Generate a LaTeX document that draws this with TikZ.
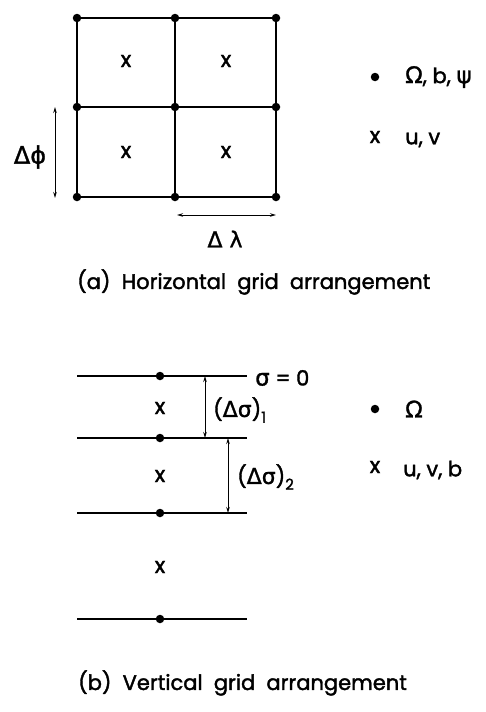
\documentclass[tikz,border=0pt]{standalone}
\usepackage{fontspec}
\setmainfont{Poppins}[FakeBold=1.5]
\newfontfamily\lat{Poppins}[FakeBold=1.8]
\newfontfamily\grk{DejaVu Sans}[FakeBold=1.2]
\usetikzlibrary{arrows.meta}
\begin{document}
\begin{tikzpicture}[x=1pt,y=-1pt,
  dot/.style={circle,fill=black,inner sep=0pt,minimum size=8.5pt},
  gridline/.style={line width=1.6pt},
  dim/.style={line width=1pt,{Stealth[length=6pt,width=3.5pt]}-{Stealth[length=6pt,width=3.5pt]}},
  lbl/.style={font=\lat\fontsize{21}{24}\selectfont,inner sep=0pt},
  cross/.style={font=\lat\fontsize{22}{24}\selectfont,inner sep=0pt},
  captext/.style={font=\lat\fontsize{21}{24}\selectfont,inner sep=0pt,anchor=west}]
\useasboundingbox (0,0) rectangle (486,712);
% ---------- (a) horizontal grid ----------
\foreach \i/\x in {1/77,2/175,3/276}
  \foreach \j/\y in {1/18,2/107,3/197}
    \node[dot] (g\i\j) at (\x,\y) {};
\foreach \j in {1,2,3} \draw[gridline] (g1\j.center) -- (g3\j.center);
\foreach \i in {1,2,3} \draw[gridline] (g\i1.center) -- (g\i3.center);
\node[cross] (xa1) at (126,61) {x};
\node[cross] (xa2) at (226,61) {x};
\node[cross] (xa3) at (126,152) {x};
\node[cross] (xa4) at (226,152) {x};
\coordinate (phiA) at (55,107);
\coordinate (phiB) at (55,198);
\draw[dim] (phiA) -- (phiB);
\node[lbl,font=\grk\fontsize{24}{26}\selectfont] (dphi) at (30,157) {Δϕ};
\coordinate (lamA) at (177,215);
\coordinate (lamB) at (276,215);
\draw[dim] (lamA) -- (lamB);
\node[lbl,font=\grk\fontsize{22}{24}\selectfont] (dlam) at (225,239) {Δ λ};
\node[dot] (la1) at (375,77) {};
\node[lbl,anchor=west] (la1t) at (405,77) {{\grk\fontsize{23}{24}\selectfont Ω}, b, {\grk\fontsize{23}{24}\selectfont ψ}};
\node[cross] (la2) at (375,137) {x};
\node[lbl,anchor=west] (la2t) at (405,140) {u, v};
\node[captext] (capa) at (77,282) {(a)\ \ Horizontal\ \ grid\ \ arrangement};
% ---------- (b) vertical grid ----------
\foreach \k/\y in {1/376,2/438,3/513,4/619}{
  \coordinate (l\k) at (77,\y);
  \coordinate (r\k) at (247,\y);
  \draw[gridline] (l\k) -- (r\k);
  \node[dot] (d\k) at (160,\y) {};
}
\node[cross] (xb1) at (160,408) {x};
\node[cross] (xb2) at (160,476) {x};
\node[cross] (xb3) at (160,567) {x};
\coordinate (s1A) at (205,376);
\coordinate (s1B) at (205,438);
\draw[dim] (s1A) -- (s1B);
\coordinate (s2A) at (228,438);
\coordinate (s2B) at (228,513);
\draw[dim] (s2A) -- (s2B);
\node[lbl,anchor=west] (sig0) at (255,378) {{\grk\fontsize{23}{24}\selectfont σ} = 0};
\node[lbl,anchor=west] (ds1) at (213,410) {({\grk\fontsize{22}{24}\selectfont Δσ})\raisebox{-0.5ex}{\fontsize{15}{15}\selectfont 1}};
\node[lbl,anchor=west] (ds2) at (237,477) {({\grk\fontsize{22}{24}\selectfont Δσ})\raisebox{-0.5ex}{\fontsize{15}{15}\selectfont 2}};
\node[dot] (lb1) at (375,409) {};
\node[lbl,anchor=west] (lb1t) at (405,409) {\grk\fontsize{23}{24}\selectfont Ω};
\node[cross] (lb2) at (375,467) {x};
\node[lbl,anchor=west] (lb2t) at (403,470) {u, v, b};
\node[captext] (capb) at (78,683) {(b)\ \ Vertical\ \ grid\ \ arrangement};
\end{tikzpicture}
\end{document}
